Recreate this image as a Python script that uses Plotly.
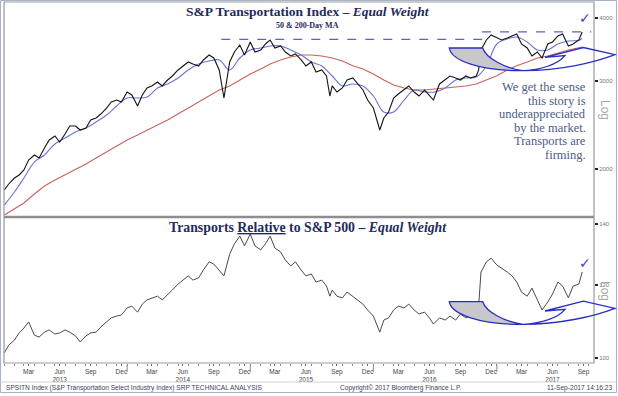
import plotly.graph_objects as go

# ---------------- data ----------------
dates = [
 "2013-01-02","2013-01-15","2013-02-01","2013-02-15","2013-03-01","2013-03-15","2013-04-01","2013-04-15",
 "2013-05-01","2013-05-15","2013-06-01","2013-06-15","2013-07-01","2013-07-15","2013-08-01","2013-08-15",
 "2013-09-01","2013-09-15","2013-10-01","2013-10-15","2013-11-01","2013-11-15","2013-12-01","2013-12-15",
 "2014-01-01","2014-01-15","2014-02-01","2014-02-15","2014-03-01","2014-03-15","2014-04-01","2014-04-15",
 "2014-05-01","2014-05-15","2014-06-01","2014-06-15","2014-07-01","2014-07-15","2014-08-01","2014-08-15",
 "2014-09-01","2014-09-15","2014-10-01","2014-10-15","2014-11-01","2014-11-15","2014-12-01","2014-12-15",
 "2015-01-01","2015-01-15","2015-02-01","2015-02-15","2015-03-01","2015-03-15","2015-04-01","2015-04-15",
 "2015-05-01","2015-05-15","2015-06-01","2015-06-15","2015-07-01","2015-07-15","2015-08-01","2015-08-15",
 "2015-08-25","2015-09-01","2015-09-15","2015-10-01","2015-10-15","2015-11-01","2015-11-15","2015-12-01",
 "2015-12-15",
 "2016-01-01","2016-01-20","2016-02-01","2016-02-15","2016-03-01","2016-03-15","2016-04-01","2016-04-15",
 "2016-05-01","2016-05-15","2016-06-01","2016-06-15","2016-06-27","2016-07-15","2016-08-01","2016-08-15",
 "2016-09-01","2016-09-15","2016-10-01","2016-10-15","2016-11-01","2016-11-08","2016-11-15","2016-12-01",
 "2016-12-15",
 "2017-01-01","2017-01-15","2017-02-01","2017-02-15","2017-03-01","2017-03-15","2017-04-01","2017-04-15",
 "2017-05-01","2017-05-15","2017-06-01","2017-06-15","2017-07-01","2017-07-15","2017-08-01","2017-08-15",
 "2017-09-01","2017-09-11"]

price = [
 1816,1867,1919,1946,1991,2084,2133,2104,2202,2285,2327,2264,2349,2436,2436,2392,
 2414,2504,2528,2574,2646,2720,2745,2720,
 2848,2809,2671,2809,2901,2928,2982,2928,3009,3065,3151,3209,3269,3239,3209,3299,
 3375,3329,3151,2771,3269,3422,3534,3375,
 3583,3422,3454,3550,3616,3486,3518,3422,3360,3391,3299,3209,3269,3122,3151,3065,
 2796,2928,2848,2901,3009,3037,2955,2874,2745,
 2646,2392,2528,2598,2771,2822,2874,2928,2848,2796,2874,2796,2745,2955,3009,3065,
 3037,3009,3065,3037,3065,3151,3454,3616,3700,
 3649,3616,3649,3683,3717,3550,3486,3360,3422,3329,3550,3583,3683,3717,3518,3550,
 3616,3751]

relative = [
 101.3,103.3,104.6,106.5,107.8,109.5,105.9,105.4,106.7,107.3,106.2,106.5,107.3,106.7,105.7,104.1,
 105.7,106.5,106.7,108.1,109.5,110.6,111.1,111.4,
 113.4,113.9,112.2,114.5,115.7,116.3,116.8,115.7,117.1,118.6,120.4,121.6,122.9,121.6,122.3,124.7,
 127.3,126.6,124.7,122.9,129.8,133.2,135.8,132.5,
 136.5,132.5,131.2,133.2,135.8,131.8,130.5,127.9,126.0,127.3,124.7,122.9,123.5,121.0,121.6,119.8,
 116.8,118.6,116.8,116.3,118.0,116.8,115.7,114.5,112.8,
 111.1,106.7,110.0,110.6,112.8,113.9,113.4,114.5,112.8,111.7,112.2,110.6,108.9,110.6,110.0,111.1,
 110.0,111.7,110.6,111.1,111.7,113.9,124.1,127.3,128.5,
 126.3,125.4,124.1,122.9,121.0,118.0,116.8,119.2,115.7,112.8,115.1,117.4,121.0,119.8,116.3,119.8,
 120.4,124.1]

ma_dates = [
 "2013-01-02","2013-02-01","2013-03-01","2013-04-01","2013-05-01","2013-06-01","2013-07-01","2013-08-01",
 "2013-09-01","2013-10-01","2013-11-01","2013-12-01",
 "2014-01-01","2014-02-01","2014-03-01","2014-04-01","2014-05-01","2014-06-01","2014-07-01","2014-08-01",
 "2014-09-01","2014-10-01","2014-11-01","2014-12-01",
 "2015-01-01","2015-02-01","2015-03-01","2015-04-01","2015-05-01","2015-06-01","2015-07-01","2015-08-01",
 "2015-09-01","2015-10-01","2015-11-01","2015-12-01",
 "2016-01-01","2016-02-01","2016-03-01","2016-04-01","2016-05-01","2016-06-01","2016-07-01","2016-08-01",
 "2016-09-01","2016-10-01","2016-11-01","2016-12-01",
 "2017-01-01","2017-02-01","2017-03-01","2017-04-01","2017-05-01","2017-06-01","2017-07-01","2017-08-01",
 "2017-09-01","2017-09-11"]

ma50 = [
 1695,1800,1919,2065,2133,2243,2306,2370,2414,2482,2563,2671,
 2771,2771,2783,2901,2955,3037,3151,3239,3284,3299,3151,3329,
 3454,3486,3518,3518,3454,3375,3269,3209,3065,2928,2955,2928,
 2796,2598,2598,2745,2874,2848,2848,2901,3009,3037,3051,3209,
 3550,3633,3666,3583,3454,3454,3550,3600,3610,3640]

ma200 = [
 1619,1665,1711,1783,1850,1902,1946,1991,2046,2104,2162,2223,
 2285,2338,2392,2448,2504,2574,2646,2720,2796,2874,2928,3009,
 3093,3165,3239,3299,3344,3375,3375,3360,3329,3284,3213,3165,
 3093,3009,2941,2901,2874,2874,2887,2901,2914,2928,2955,3009,
 3070,3151,3213,3269,3329,3360,3406,3454,3490,3501]

resist1_dates = ["2014-10-07", "2016-12-05"]
resist1_level = [3625, 3625]
resist2_dates = ["2016-11-18", "2017-10-08"]
resist2_level = [3752, 3752]

top_ticks = [2000, 3000, 4000]
bottom_ticks = [100, 120, 140]
tick_years = [2013, 2014, 2015, 2016, 2017]
tick_months = [(3, "Mar"), (6, "Jun"), (9, "Sep"), (12, "Dec")]
x_start, x_end = "2013-01-01", "2017-10-16"

# ---------------- geometry helpers ----------------
W, H = 618, 396
ML, MR, MT, MB = 4, 24, 2, 33
PW, PH = W - ML - MR, H - MT - MB


def X(px):
    return (px - ML) / PW


def Y(py):
    return (H - MB - py) / PH


split = Y(217)

NAVY = "#1f2b5c"
BLUE_MA = "#6b74d6"
RED_MA = "#c9625c"
SHAPE_BLUE = "#2a2fbf"

fig = go.Figure()

fig.add_trace(go.Scatter(x=ma_dates, y=ma200, mode="lines", line=dict(color=RED_MA, width=1.1),
                         xaxis="x2", yaxis="y", hoverinfo="skip"))
fig.add_trace(go.Scatter(x=ma_dates, y=ma50, mode="lines", line=dict(color=BLUE_MA, width=1.1, shape="spline"),
                         xaxis="x2", yaxis="y", hoverinfo="skip"))
fig.add_trace(go.Scatter(x=dates, y=price, mode="lines", line=dict(color="#141414", width=1.1),
                         xaxis="x2", yaxis="y"))
fig.add_trace(go.Scatter(x=resist1_dates, y=resist1_level, mode="lines",
                         line=dict(color="#5b63c9", width=1.2, dash="dash"), xaxis="x2", yaxis="y"))
fig.add_trace(go.Scatter(x=resist2_dates, y=resist2_level, mode="lines",
                         line=dict(color="#5b63c9", width=1.2, dash="dash"), xaxis="x2", yaxis="y",
                         cliponaxis=False))
fig.add_trace(go.Scatter(x=dates, y=relative, mode="lines", line=dict(color="#4a4a4a", width=1),
                         xaxis="x", yaxis="y2"))

# x ticks
tickvals, ticktext = [], []
for yr in tick_years:
    for m, name in tick_months:
        d = f"{yr}-{m:02d}-15"
        if d <= "2017-09-30":
            tickvals.append(d)
            ticktext.append(f"{name}<br>{yr}" if m == 6 else name)

axis_font = dict(family="Liberation Sans", size=6.5, color="#444")

fig.update_layout(
    width=W, height=H,
    margin=dict(l=ML, r=MR, t=MT, b=MB),
    paper_bgcolor="white", plot_bgcolor="white",
    showlegend=False,
    xaxis=dict(domain=[0, 1], anchor="y2", range=[x_start, x_end], tickmode="array",
               tickvals=tickvals, ticktext=ticktext, tickfont=axis_font, ticks="outside",
               ticklen=2, tickcolor="#666", showgrid=False, zeroline=False, showline=False,
               automargin=False,
               minor=dict(ticks="outside", dtick="M1", tick0="2013-01-01", ticklen=2, tickcolor="#888")),
    xaxis2=dict(domain=[0, 1], anchor="y", matches="x", showticklabels=False, ticks="",
                showgrid=False, zeroline=False, showline=False),
    yaxis=dict(domain=[split, 1], anchor="x2", type="log", range=[3.20533, 3.63396], side="right",
               tickmode="array", tickvals=top_ticks, ticktext=[str(v) for v in top_ticks],
               tickfont=dict(family="Liberation Sans", size=6, color="#777"), ticks="outside",
               ticklen=3, tickwidth=2, tickcolor="#222", showgrid=False, zeroline=False, showline=False,
               automargin=False),
    yaxis2=dict(domain=[0, split], anchor="x", type="log", range=[1.99455, 2.15376], side="right",
                tickmode="array", tickvals=bottom_ticks, ticktext=[str(v) for v in bottom_ticks],
                tickfont=dict(family="Liberation Sans", size=6, color="#777"), ticks="outside",
                ticklen=3, tickwidth=2, tickcolor="#222", showgrid=False, zeroline=False, showline=False,
                automargin=False),
)

shapes = []
# plot frame + divider
shapes.append(dict(type="rect", xref="paper", yref="paper", x0=0, x1=1, y0=0, y1=1,
                   line=dict(color="#9a9a9a", width=1.2)))
shapes.append(dict(type="line", xref="paper", yref="paper", x0=0, x1=1, y0=split, y1=split,
                   line=dict(color="#8e8e8e", width=2.5)))
# outer border and footer separator
shapes.append(dict(type="rect", xref="paper", yref="paper", x0=X(0.5), x1=X(616.5), y0=Y(392.5), y1=Y(0.5),
                   line=dict(color="#a9b3c6", width=1)))
shapes.append(dict(type="line", xref="paper", yref="paper", x0=X(0.5), x1=X(616.5), y0=Y(382), y1=Y(382),
                   line=dict(color="#d0d4dc", width=1)))
# year separators
for yr in tick_years[1:]:
    shapes.append(dict(type="line", xref="x", yref="paper", x0=f"{yr}-01-01", x1=f"{yr}-01-01",
                       y0=Y(365), y1=Y(372), line=dict(color="#888", width=1)))


def P(px, py):
    return f"{X(px):.5f},{Y(py):.5f}"


def swoosh(dy):
    crescent = (f"M {P(449.3, 301.7+dy)} L {P(482.7, 301.7+dy)} "
                f"C {P(486, 312+dy)} {P(505, 322+dy)} {P(523, 324.3+dy)} "
                f"C {P(480, 325+dy)} {P(451, 314+dy)} {P(449.3, 301.7+dy)} Z")
    handle = (f"M {P(523, 324.3+dy)} C {P(540, 324+dy)} {P(558, 318+dy)} {P(565, 309.3+dy)} "
              f"L {P(545, 311+dy)} L {P(583.3, 301.2+dy)} L {P(615, 308.3+dy)} "
              f"C {P(595, 316+dy)} {P(560, 324.5+dy)} {P(523, 324.3+dy)} Z")
    return [
        dict(type="path", xref="paper", yref="paper", path=crescent, fillcolor="#c8c8cc",
             line=dict(color=SHAPE_BLUE, width=1.3), layer="above"),
        dict(type="path", xref="paper", yref="paper", path=handle, fillcolor="rgba(0,0,0,0)",
             line=dict(color=SHAPE_BLUE, width=1.3), layer="above"),
    ]


shapes += swoosh(0)
shapes += swoosh(-253.7)
fig.update_layout(shapes=shapes)


def note(px, py, text, font, xanchor="center", **kw):
    return dict(x=X(px), y=Y(py), xref="paper", yref="paper", showarrow=False, text=text,
                font=font, xanchor=xanchor, yanchor="middle", **kw)


serif = "Liberation Serif"
ann = []
ann.append(note(308, 12, "<b>S&P Transportation Index – <i>Equal Weight</i></b>",
                dict(family=serif, size=13.5, color=NAVY)))
ann.append(note(307, 25.5, "<b>50 & 200-Day MA</b>", dict(family=serif, size=8, color=NAVY)))
ann.append(note(308, 227,
                "<b>Transports <span style='text-decoration:underline'>Relative</span> to S&P 500 – <i>Equal Weight</i></b>",
                dict(family=serif, size=13.8, color=NAVY)))
lines = ["We get the sense", "this story is", "underappreciated", "by the market.", "Transports are", "firming."]
for i, t in enumerate(lines):
    ann.append(note(588, 87 + i * 13.6, t, dict(family=serif, size=12.5, color="#4d5b86"), xanchor="right"))
for yy in (18, 263):
    ann.append(note(585, yy, "✓", dict(family="DejaVu Sans", size=14, color="#3d42cf")))
for yy in (110, 291):
    ann.append(note(605, yy, "Log", dict(family="Liberation Sans", size=12, color="#aaaaaa"), textangle=90))
foot = dict(family="Liberation Sans", size=6.6, color="#3a3f55")
ann.append(note(4, 388, "SPSITN Index (S&P Transportation Select Industry Index) SRP TECHNICAL ANALYSIS",
                foot, xanchor="left"))
ann.append(note(400, 388, "Copyright© 2017 Bloomberg Finance L.P.", foot))
ann.append(note(614, 388, "11-Sep-2017 14:16:23", foot, xanchor="right"))
fig.update_layout(annotations=ann)

fig.write_html("out.html", config={"displayModeBar": False},
               post_script="document.body.style.margin='0px';document.body.style.overflow='hidden';")
